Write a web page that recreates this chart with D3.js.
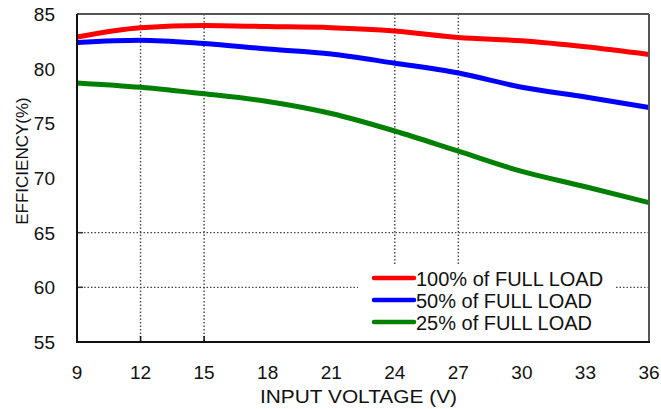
<!DOCTYPE html>
<html><head><meta charset="utf-8">
<script src="https://cdn.jsdelivr.net/npm/d3@7"></script>
<style>body{margin:0;background:#fff}svg{display:block}text{font-family:"Liberation Sans",Arial,sans-serif;fill:#111}</style>
</head><body>
<svg id="c" width="661" height="409"></svg>
<script>
const voltages = [9, 12, 15, 18, 21, 24, 27, 30, 33, 36];
const load100 = [82.9, 83.75, 83.95, 83.85, 83.75, 83.45, 82.85, 82.55, 82.0, 81.3];
const load50  = [82.4, 82.6, 82.3, 81.8, 81.35, 80.5, 79.6, 78.3, 77.4, 76.45];
const load25  = [78.7, 78.3, 77.7, 77.0, 75.9, 74.3, 72.45, 70.6, 69.2, 67.75];
const xTicks = [9, 12, 15, 18, 21, 24, 27, 30, 33, 36];
const yTicks = [55, 60, 65, 70, 75, 80, 85];
const xGrid = [12, 15, 24, 27];
const yGrid = [60, 65];
const seriesNames = ["100% of FULL LOAD", "50% of FULL LOAD", "25% of FULL LOAD"];
const colors = ["#ff0000", "#0000ff", "#008000"];

const svg = d3.select("#c");
const L = 77, R = 649, T = 14, B = 342;
const x = d3.scaleLinear().domain([9, 36]).range([L, R]);
const y = d3.scaleLinear().domain([55, 85]).range([B, T]);

// grid
const g = svg.append("g");
g.selectAll(".vg").data(xGrid).enter().append("line")
  .attr("x1", d => x(d)).attr("x2", d => x(d)).attr("y1", T).attr("y2", B)
  .attr("stroke", "#444").attr("stroke-width", 1.4).attr("stroke-dasharray", "1.5,2");
g.selectAll(".hg").data(yGrid).enter().append("line")
  .attr("x1", L).attr("x2", R).attr("y1", d => y(d)).attr("y2", d => y(d))
  .attr("stroke", "#444").attr("stroke-width", 1.4).attr("stroke-dasharray", "1.5,2");
// ticks
g.selectAll(".xt").data(xGrid).enter().append("line")
  .attr("x1", d => x(d)).attr("x2", d => x(d)).attr("y1", B).attr("y2", B - 6)
  .attr("stroke", "#111").attr("stroke-width", 1.5);
g.selectAll(".yt").data(yGrid).enter().append("line")
  .attr("x1", L).attr("x2", L + 6).attr("y1", d => y(d)).attr("y2", d => y(d))
  .attr("stroke", "#333").attr("stroke-width", 1.5);

// lines
const line = d3.line().x((d, i) => x(voltages[i])).y(d => y(d)).curve(d3.curveMonotoneX);
[load100, load50, load25].forEach((s, k) => {
  svg.append("path").datum(s).attr("d", line).attr("fill", "none")
    .attr("stroke", colors[k]).attr("stroke-width", 5).attr("stroke-linejoin", "round");
});

// frame
svg.append("line").attr("x1", L).attr("x2", R).attr("y1", T).attr("y2", T).attr("stroke", "#555").attr("stroke-width", 2);
svg.append("line").attr("x1", R).attr("x2", R).attr("y1", T).attr("y2", B).attr("stroke", "#555").attr("stroke-width", 2);
svg.append("line").attr("x1", L).attr("x2", L).attr("y1", T).attr("y2", B + 1).attr("stroke", "#111").attr("stroke-width", 2);
svg.append("line").attr("x1", L - 1).attr("x2", R + 1).attr("y1", B).attr("y2", B).attr("stroke", "#111").attr("stroke-width", 2);

// legend
svg.append("rect").attr("x", 358).attr("y", 264).attr("width", 258).attr("height", 77).attr("fill", "#fff");
seriesNames.forEach((nm, k) => {
  const ly = 278 + k * 22;
  svg.append("line").attr("x1", 374).attr("x2", 414).attr("y1", ly).attr("y2", ly)
    .attr("stroke", colors[k]).attr("stroke-width", 4.5).attr("stroke-linecap", "round");
  svg.append("text").attr("x", 416).attr("y", ly + 8).attr("font-size", 20).text(nm);
});

// tick labels
svg.selectAll(".xl").data(xTicks).enter().append("text")
  .attr("x", d => x(d)).attr("y", 379).attr("text-anchor", "middle").attr("font-size", 19).text(d => d);
svg.selectAll(".yl").data(yTicks).enter().append("text")
  .attr("x", 55).attr("y", d => y(d) + 7).attr("text-anchor", "end").attr("font-size", 19).text(d => d);

// axis titles
svg.append("text").attr("x", 260).attr("y", 403).attr("font-size", 19)
  .attr("textLength", 197).attr("lengthAdjust", "spacingAndGlyphs").text("INPUT VOLTAGE (V)");
svg.append("text").attr("transform", "translate(28,161) rotate(-90)").attr("text-anchor", "middle").attr("font-size", 17).text("EFFICIENCY(%)");
</script>
</body></html>
